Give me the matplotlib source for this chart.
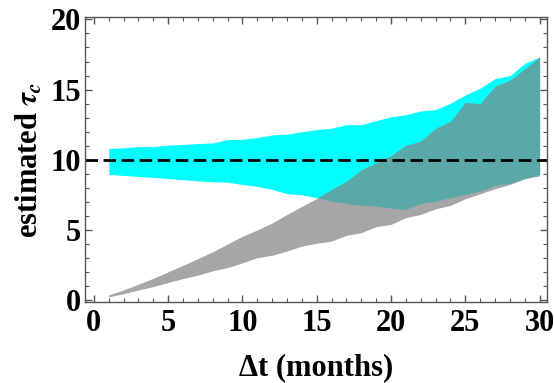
import numpy as np
import matplotlib
matplotlib.use("Agg")
import matplotlib.pyplot as plt
from matplotlib.ticker import MultipleLocator

t = np.arange(1, 31)
cyan_upper = [10.8, 10.85, 10.94, 10.94, 11.04, 11.09, 11.16, 11.2, 11.44, 11.46,
              11.58, 11.77, 11.83, 12.0, 12.15, 12.25, 12.5, 12.5, 12.79, 13.06,
              13.21, 13.48, 13.57, 14.03, 14.62, 15.1, 15.78, 15.99, 16.86, 17.32]
cyan_lower = [8.96, 8.88, 8.81, 8.74, 8.67, 8.58, 8.5, 8.43, 8.41, 8.24,
              8.1, 7.89, 7.59, 7.5, 7.3, 7.06, 6.89, 6.75, 6.7, 6.56,
              6.47, 6.89, 7.06, 7.3, 7.53, 7.77, 8.17, 8.32, 8.67, 8.96]
gray_upper = [0.38, 0.73, 1.14, 1.56, 2.02, 2.49, 2.96, 3.45, 4.0, 4.55,
              5.0, 5.5, 6.11, 6.68, 7.25, 7.89, 8.46, 9.28, 9.78, 10.3,
              11.02, 11.32, 12.24, 12.74, 14.07, 14.0, 15.23, 15.66, 16.47, 17.32]
gray_lower = [0.24, 0.47, 0.73, 0.97, 1.26, 1.54, 1.78, 2.09, 2.32, 2.66,
              3.03, 3.2, 3.5, 3.86, 4.05, 4.21, 4.62, 4.81, 5.24, 5.4,
              5.88, 6.11, 6.51, 6.75, 7.23, 7.58, 7.94, 8.24, 8.65, 8.85]
true_tau = 10
xticks = [0, 5, 10, 15, 20, 25, 30]
yticks = [0, 5, 10, 15, 20]

plt.rcParams['font.family'] = ['Liberation Serif', 'DejaVu Serif']
plt.rcParams['font.weight'] = 'bold'
plt.rcParams['mathtext.fontset'] = 'stix'

fig = plt.figure(figsize=(5.54, 3.83), dpi=100)
ax = fig.add_axes([0.1534, 0.2115, 0.8340, 0.7441])

cu = np.array(cyan_upper); cl = np.array(cyan_lower)
gu = np.array(gray_upper); gl = np.array(gray_lower)

ax.fill_between(t, cl, cu, color='#00ffff', linewidth=0)
ax.fill_between(t, gl, gu, color='#a6a6a6', linewidth=0)
lo = np.maximum(cl, gl)
hi = np.minimum(cu, gu)
ax.fill_between(t, lo, hi, where=hi > lo, interpolate=True, color='#5aa8a8', linewidth=0)
ax.axhline(true_tau, color='black', linewidth=2.0, dashes=(4.5, 2.0))

ax.set_xlim(-0.6, 30.5)
ax.set_ylim(-0.13, 20.17)
ax.set_xticks(xticks)
ax.set_yticks(yticks)
ax.xaxis.set_minor_locator(MultipleLocator(1))
ax.yaxis.set_minor_locator(MultipleLocator(1))
ax.tick_params(which='both', direction='in', top=True, right=True, color='#555555',
               labelsize=22, pad=3)
ax.tick_params(axis='x', which='both', pad=5)
ax.tick_params(which='major', length=5, width=1)
ax.tick_params(which='minor', length=3, width=0.8)
for lab in ax.get_xticklabels() + ax.get_yticklabels():
    lab.set_fontweight('bold')
for s in ax.spines.values():
    s.set_color('#555555')
    s.set_linewidth(1.0)

ax.set_xlabel('Δt (months)', fontsize=22, fontweight='bold', labelpad=11)
ax.set_ylabel(r'estimated $\tau_c$', fontsize=22, fontweight='bold', labelpad=4)

fig.savefig('out.png', dpi=100)
